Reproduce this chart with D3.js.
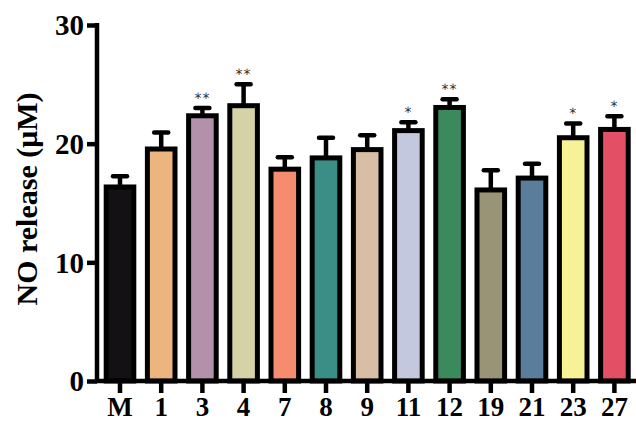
<!DOCTYPE html>
<html>
<head>
<meta charset="utf-8">
<script src="https://cdn.jsdelivr.net/npm/d3@7"></script>
<style>
  html, body { margin: 0; padding: 0; background: #fff; }
  svg { display: block; }
</style>
</head>
<body>
<div id="chart"></div>
<script>
// compounds tested, M = model group
var categories = ["M", "1", "3", "4", "7", "8", "9", "11", "12", "19", "21", "23", "27"];
// mean NO release (uM)
var values = [16.35, 19.55, 22.35, 23.2, 17.85, 18.8, 19.5, 21.1, 23.05, 16.1, 17.1, 20.5, 21.2];
// SD (upper whisker only)
var errors = [0.9, 1.4, 0.65, 1.8, 1.0, 1.7, 1.2, 0.7, 0.7, 1.65, 1.2, 1.2, 1.1];
var marks = ["", "", "**", "**", "", "", "", "*", "**", "", "", "*", "*"];
var colors = ["#141115", "#ecb57f", "#b391ab", "#d4d2a6", "#f58c70", "#3b8e86", "#d8bea4",
              "#c3c8de", "#3b8a5e", "#9a9476", "#5a7d9b", "#f7f296", "#e35066"];
var yTicks = [0, 10, 20, 30];

var width = 636, height = 423;
var serif = "'Liberation Serif', 'Times New Roman', serif";

var svg = d3.select("#chart").append("svg")
  .attr("width", width)
  .attr("height", height);

var x = d3.scaleBand()
  .domain(categories)
  .range([99.4, 635])
  .paddingInner(0.33)
  .paddingOuter(0.165);

var y = d3.scaleLinear()
  .domain([0, 30])
  .range([381, 25]);

// bars
var bar = svg.append("g").selectAll("g")
  .data(categories)
  .enter()
  .append("g");

// error bars first so the bar outline covers the joint
bar.append("line")
  .attr("x1", function (d) { return x(d) + x.bandwidth() / 2; })
  .attr("x2", function (d) { return x(d) + x.bandwidth() / 2; })
  .attr("y1", function (d, i) { return y(values[i]); })
  .attr("y2", function (d, i) { return y(values[i] + errors[i]); })
  .attr("stroke", "#000")
  .attr("stroke-width", 4.5);

bar.append("line")
  .attr("x1", function (d) { return x(d) + x.bandwidth() / 2 - 7; })
  .attr("x2", function (d) { return x(d) + x.bandwidth() / 2 + 7; })
  .attr("y1", function (d, i) { return y(values[i] + errors[i]); })
  .attr("y2", function (d, i) { return y(values[i] + errors[i]); })
  .attr("stroke", "#000")
  .attr("stroke-width", 4.5)
  .attr("stroke-linecap", "round");

bar.append("rect")
  .attr("x", function (d) { return x(d); })
  .attr("width", x.bandwidth())
  .attr("y", function (d, i) { return y(values[i]); })
  .attr("height", function (d, i) { return y(0) - y(values[i]); })
  .attr("fill", function (d, i) { return colors[i]; })
  .attr("stroke", "#000")
  .attr("stroke-width", 5);

bar.append("text")
  .attr("x", function (d) { return x(d) + x.bandwidth() / 2; })
  .attr("y", function (d, i) { return y(values[i] + errors[i]) - 5; })
  .attr("text-anchor", "middle")
  .attr("font-family", "'DejaVu Sans', sans-serif")
  .attr("font-size", 14)
  .attr("fill", "#2a2a2a")
  .attr("letter-spacing", 1)
  .style("text-rendering", "geometricPrecision")
  .text(function (d, i) { return marks[i]; });

// y axis
var yAxis = svg.append("g")
  .attr("transform", "translate(97,0)")
  .call(d3.axisLeft(y).tickValues(yTicks).tickSize(10).tickPadding(3));
yAxis.select(".domain").attr("d", "M0," + (y(30) - 2) + "V" + y(0))
  .attr("stroke", "#000").attr("stroke-width", 4.5);
yAxis.selectAll(".tick line").attr("stroke", "#000").attr("stroke-width", 4.5);
yAxis.selectAll(".tick text")
  .attr("font-family", serif)
  .attr("font-weight", "bold")
  .attr("font-size", 29)
  .attr("fill", "#000")
  .attr("dy", "0.34em");

// x axis
var xAxis = svg.append("g")
  .attr("transform", "translate(0," + y(0) + ")")
  .call(d3.axisBottom(x).tickSize(12).tickPadding(4));
xAxis.select(".domain").attr("d", "M95,0H636")
  .attr("stroke", "#000").attr("stroke-width", 4.5);
xAxis.selectAll(".tick line").attr("stroke", "#000").attr("stroke-width", 4.5);
xAxis.selectAll(".tick text")
  .attr("font-family", serif)
  .attr("font-weight", "bold")
  .attr("font-size", 27)
  .attr("fill", "#000");

// axis title
svg.append("text")
  .attr("transform", "translate(37,199) rotate(-90)")
  .attr("text-anchor", "middle")
  .attr("font-family", serif)
  .attr("font-weight", "bold")
  .attr("font-size", 30)
  .text("NO release (\u03BCM)");
</script>
</body>
</html>
